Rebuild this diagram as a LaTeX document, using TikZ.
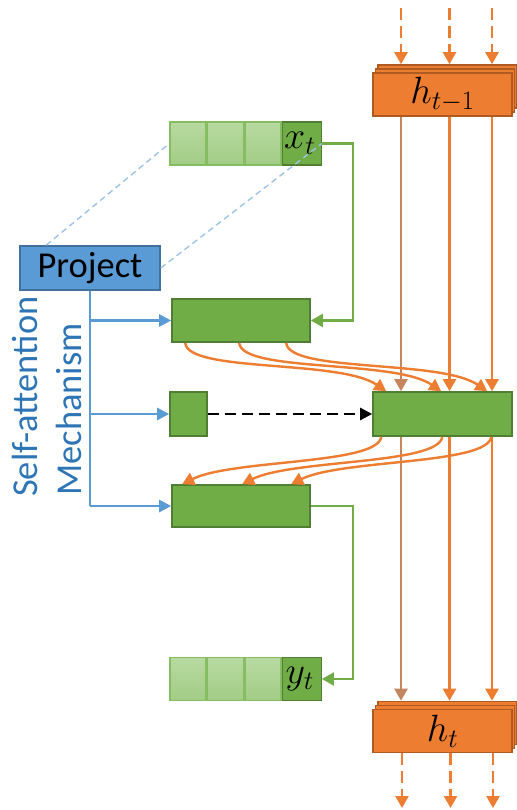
\documentclass[tikz,border=0pt]{standalone}
\usepackage{fix-cm}
\usepackage[no-math]{fontspec}
\newfontfamily\calib{Carlito}
\usetikzlibrary{arrows.meta,positioning}

\definecolor{accorange}{HTML}{ED7D31}
\definecolor{accorangedk}{HTML}{AE5A21}
\definecolor{accbrown}{RGB}{196,134,94}
\definecolor{accgreen}{HTML}{70AD47}
\definecolor{accgreendk}{HTML}{507E32}
\definecolor{lightgreen}{HTML}{A2CC85}
\definecolor{lightgreentop}{HTML}{B7DAA0}
\definecolor{lightgreenedge}{HTML}{86BC62}
\definecolor{accblue}{HTML}{5B9BD5}
\definecolor{accbluedk}{HTML}{41719C}
\definecolor{textblue}{HTML}{2E75B6}
\definecolor{paleblue}{HTML}{9DC3E6}

\begin{document}
\begin{tikzpicture}[x=1pt, y=-1pt,
  gbox/.style={draw=accgreendk, line width=1.6pt, fill=accgreen, inner sep=0pt},
  hbox/.style={draw=accorangedk, line width=1.6pt, fill=accorange,
    minimum width=139pt, minimum height=43pt, inner sep=0pt,
    font=\fontsize{38}{44}\selectfont},
  lcell/.style={draw=lightgreenedge, line width=1.4pt, top color=lightgreentop,
    bottom color=lightgreen, minimum width=36pt, minimum height=43pt, inner sep=0pt},
  dcell/.style={draw=accgreendk, line width=1.4pt, fill=accgreen,
    minimum width=39pt, minimum height=43pt, inner sep=0pt,
    font=\fontsize{38}{44}\selectfont},
  flow/.style={accorange, line width=2.4pt, -{Triangle[length=12pt,width=13pt]}},
  feed/.style={flow, dash pattern=on 12pt off 6pt},
  fan/.style={accblue, line width=2.4pt, -{Triangle[length=12pt,width=12pt]}},
  glink/.style={accgreen, line width=2.4pt, -{Triangle[length=12pt,width=13pt]}},
  guide/.style={paleblue, line width=1.4pt, dash pattern=on 6pt off 4pt},
  label/.style={font=\calib\fontsize{36.5}{42}\selectfont, inner sep=0pt}
]
  \useasboundingbox (0,0) rectangle (516,810);

  % hidden states, drawn as a small stack
  \foreach \s in {2,1}
    \node[hbox] (hprev\s) at (442.5+2.5*\s,94.5-4*\s) {};
  \node[hbox] (hprev) at (442.5,94.5) {$h_{t-1}$};
  \foreach \s in {2,1}
    \node[hbox] (hcur\s) at (442.5+2.5*\s,731-4*\s) {};
  \node[hbox] (hcur) at (442.5,731) {$h_t$};

  % attention blocks
  \node[gbox, minimum width=138pt, minimum height=43pt] (qbox) at (241,320.5) {};
  \node[gbox, minimum width=37pt, minimum height=44pt] (sbox) at (188.5,414) {};
  \node[gbox, minimum width=138pt, minimum height=42pt] (obox) at (241,506) {};
  \node[gbox, minimum width=139pt, minimum height=44pt] (attn) at (442.5,414) {};

  % input and output sequences
  \node[lcell] (x1) at (188,143.5) {};
  \node[lcell, right=0pt of x1] (x2) {};
  \node[lcell, right=0pt of x2] (x3) {};
  \node[dcell, right=0pt of x3] (xt) {\hspace*{-4pt}$x_t$};
  \node[lcell] (y1) at (188,679) {};
  \node[lcell, right=0pt of y1] (y2) {};
  \node[lcell, right=0pt of y2] (y3) {};
  \node[dcell, right=0pt of y3] (yt) {\hspace*{-4pt}$y_t$};

  \node[draw=accbluedk, fill=accblue, line width=1.6pt, minimum width=140pt,
    minimum height=44pt, label] (project) at (90,268) {Project};
  \node[label, text=textblue, rotate=90, anchor=base west] (selfatt) at (37,497) {Self-attention};
  \node[label, text=textblue, rotate=90, anchor=base west] (mech) at (81,496) {Mechanism};

  % projection fan-out
  \draw[accblue, line width=2.4pt] (project.south) -- (project.south |- obox.west);
  \foreach \n in {qbox,sbox,obox}
    \draw[fan] (project.south |- \n.west) -- (\n.west);
  \draw[guide] ([xshift=27pt]project.north west) -- (x1.west);
  \draw[guide] (project.east) -- (xt.east);

  % input in, output out
  \coordinate (turn) at (353,0);
  \draw[glink] (xt.east) -- (turn |- xt.east) |- (qbox.east);
  \draw[glink] (obox.east) -- (turn |- obox.east) |- (yt.east);

  \draw[black, line width=2.4pt, dash pattern=on 11pt off 6pt,
    -{Triangle[length=12pt,width=12pt]}] (sbox.east) -- (attn.west);

  % recurrence through the attention block
  \foreach \xc/\col [count=\i] in {401/accbrown,449.5/accorange,492/accorange} {
    \coordinate (col\i) at (\xc,0);
    \coordinate (in\i) at (\xc,8);
    \coordinate (out\i) at (\xc+1,808);
    \draw[feed] (in\i) -- (in\i |- hprev2.north);
    \draw[flow, color=\col] (col\i |- hprev.south) -- (col\i |- attn.north);
    \draw[flow, color=\col] (col\i |- attn.south) -- (col\i |- hcur2.north);
    \draw[feed] (out\i |- hcur.south) -- (out\i);
  }
  \foreach \a/\b in {14/14,68/69,115/115}
    \draw[flow] ([xshift=\a pt]qbox.south west) .. controls +(2,30) and +(-47,-32)
      .. ([xshift=\b pt]attn.north west);
  \foreach \a/\b in {9/11,70/71,119/120}
    \draw[flow] ([xshift=\a pt]attn.south west) .. controls +(-3,28) and +(50,-25)
      .. ([xshift=\b pt]obox.north west);
\end{tikzpicture}
\end{document}
